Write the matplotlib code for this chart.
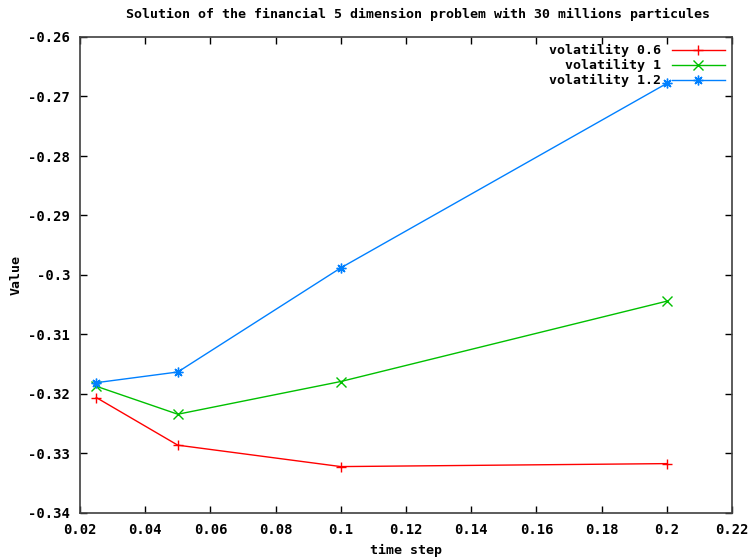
import matplotlib.pyplot as plt

time_step = [0.025, 0.05, 0.1, 0.2]
vol_06 = [-0.3206, -0.3286, -0.3322, -0.3317]
vol_1 = [-0.3187, -0.3234, -0.3179, -0.3044]
vol_12 = [-0.3181, -0.3163, -0.2988, -0.2678]

labels = ['volatility 0.6', 'volatility 1', 'volatility 1.2']
colors = ['#ff0000', '#00c000', '#0080ff']
markers = ['+', 'x', (8, 2, 0)]

plt.rcParams['font.family'] = 'DejaVu Sans Mono'
plt.rcParams['font.weight'] = 'bold'
plt.rcParams['font.size'] = 9

fig = plt.figure(figsize=(7.53, 5.58), dpi=100)
ax = fig.add_axes([80 / 753, 1 - 513 / 558, (732 - 80) / 753, (513 - 37) / 558])

for y, lab, c, m in zip([vol_06, vol_1, vol_12], labels, colors, markers):
    ax.plot(time_step, y, color=c, marker=m, markersize=7, linewidth=1,
            markeredgewidth=1, label=lab)

ax.set_xlim(0.02, 0.22)
ax.set_ylim(-0.34, -0.26)
ax.set_xticks([0.02, 0.04, 0.06, 0.08, 0.1, 0.12, 0.14, 0.16, 0.18, 0.2, 0.22])
ax.set_xticklabels(['0.02', '0.04', '0.06', '0.08', '0.1', '0.12', '0.14',
                    '0.16', '0.18', '0.2', '0.22'])
ax.set_yticks([-0.34, -0.33, -0.32, -0.31, -0.3, -0.29, -0.28, -0.27, -0.26])
ax.set_yticklabels(['-0.34', '-0.33', '-0.32', '-0.31', '-0.3', '-0.29',
                    '-0.28', '-0.27', '-0.26'])
ax.tick_params(direction='in', top=True, right=True, length=5, width=1,
               pad=7, labelsize=10)
for s in ax.spines.values():
    s.set_linewidth(1.2)
    s.set_color('#404040')

# gnuplot centres the title a bit right of the axes centre
fig.text(418 / 753, 1 - 14 / 558,
         'Solution of the financial 5 dimension problem with 30 millions particules',
         ha='center', va='center', fontsize=9.5, fontweight='bold')
ax.set_xlabel('time step', fontsize=9.5, fontweight='bold', labelpad=5)
ax.set_ylabel('Value', fontsize=9.5, fontweight='bold', labelpad=4)

leg = ax.legend(loc='upper right', frameon=False, markerfirst=False,
                handlelength=4, labelspacing=0.15, borderaxespad=0.15,
                handletextpad=0.8, fontsize=9.5)
for t in leg.get_texts():
    t.set_ha('right')

fig.savefig('out.png', dpi=100)
